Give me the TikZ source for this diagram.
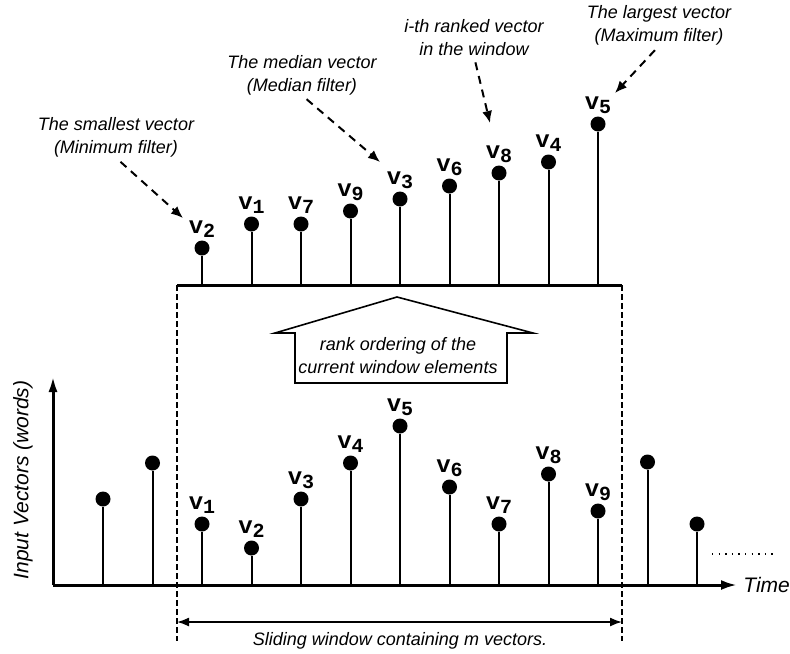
\documentclass[tikz,border=0pt]{standalone}
\usepackage{fontspec}
\usepackage{tikz}
\usetikzlibrary{arrows.meta,positioning}
\newfontfamily\notefont{Liberation Sans}
\newfontfamily\labfont{Liberation Mono}
\newcommand{\vsub}[1]{v\raisebox{-2pt}{\fontsize{10}{10}\selectfont #1}}

\begin{document}
\begin{tikzpicture}[x=0.5pt,y=-0.5pt,
  stem/.style={line width=1pt},
  ball/.style={circle,fill,inner sep=0pt,minimum size=7.5pt},
  vlab/.style={font=\labfont\bfseries\fontsize{12}{12}\selectfont,inner sep=0pt,anchor=base},
  note/.style={font=\notefont\itshape\fontsize{9}{11.5}\selectfont,align=center,inner sep=0pt},
  axlab/.style={font=\notefont\itshape\fontsize{10.5}{12}\selectfont,inner sep=0pt},
  pointer/.style={-{Latex[length=6pt,width=5pt]},line width=1pt,dash pattern=on 4pt off 3pt,shorten <=3pt},
  axis/.style={line width=1.5pt},
  window/.style={line width=0.6pt,dash pattern=on 3pt off 1.5pt}]
  \useasboundingbox (0,0) rectangle (790,653);

  % input signal
  \coordinate (o) at (53,585);
  \coordinate (xend) at (737,585);
  \coordinate (yend) at (53,376);
  \draw[axis,-{Latex[length=8pt,width=5pt]}] (o) -- (xend);
  \draw[axis,-{Latex[length=8pt,width=4.5pt]}] (o) -- (yend);
  \node[axlab,anchor=west] (time) at (743,585) {Time};
  \node[axlab,rotate=90] (ylab) at (23,480) {Input Vectors (words)};

  \foreach \h [count=\k from 0] in {499,463,524,548,499,463,426,487,524,474,511,462,524} {
    \coordinate (a\k) at (103+49.5*\k,585);
    \node[ball] (b\k) at (103+49.5*\k,\h) {};
    \draw[stem] (a\k) -- (b\k);
  }
  \foreach \i [evaluate=\i as \k using int(\i+1)] in {1,...,9}
    \node[vlab] (l\i) at ([yshift=7.5pt]b\k) {\vsub{\i}};

  \coordinate (d1) at (712,554);
  \coordinate (d2) at (775,554);
  \draw[line width=0.7pt,dash pattern=on 0.7pt off 2.6pt] (d1) -- (d2);

  % window
  \coordinate (wl) at (177,285);
  \coordinate (wr) at (622,285);
  \coordinate (wlb) at (177,641);
  \coordinate (wrb) at (622,641);
  \draw[window] (wl) -- (wlb);
  \draw[window] (wr) -- (wrb);
  \coordinate (sl) at (177,622);
  \coordinate (sr) at (622,622);
  \draw[{Latex[length=6pt,width=4.5pt]}-{Latex[length=6pt,width=4.5pt]},line width=0.8pt] (sl) -- (sr);
  \node[note] (slide) at (400,641) {Sliding window containing m vectors.};

  % rank ordered window
  \draw[axis] (wl) -- (wr);
  \foreach \h/\i [count=\j from 0] in {248/2,224/1,224/7,211/9,199/3,186/6,173/8,162/4,124/5} {
    \coordinate (c\j) at (202+49.5*\j,285);
    \node[ball] (r\i) at (202+49.5*\j,\h) {};
    \draw[stem] (c\j) -- (r\i);
    \node[vlab] (m\i) at ([yshift=7.5pt]r\i) {\vsub{\i}};
  }

  % block arrow
  \draw[line width=0.8pt,fill=white] (397,297) -- (533,333) -- (507,333) -- (507,383)
    -- (295,383) -- (295,333) -- (275,333) -- cycle;
  \node[note] (rank) at (398,356) {rank ordering of the\\current window elements};

  % annotations
  \node[note] (nmin) at (116,137.5) {The smallest vector\\(Minimum filter)};
  \node[note] (nmed) at (302,75) {The median vector\\(Median filter)};
  \node[note] (nith) at (474,38) {i-th ranked vector\\in the window};
  \node[note] (nmax) at (659,25.5) {The largest vector\\(Maximum filter)};
  \coordinate (tmin) at (183,218);
  \coordinate (tmed) at (380,162);
  \coordinate (tith) at (490,123);
  \coordinate (tmax) at (615,93);
  \draw[pointer] (nmin.south) -- (tmin);
  \draw[pointer] (nmed.south) -- (tmed);
  \draw[pointer] (nith.south) -- (tith);
  \draw[pointer] (nmax.south) -- (tmax);
\end{tikzpicture}
\end{document}
